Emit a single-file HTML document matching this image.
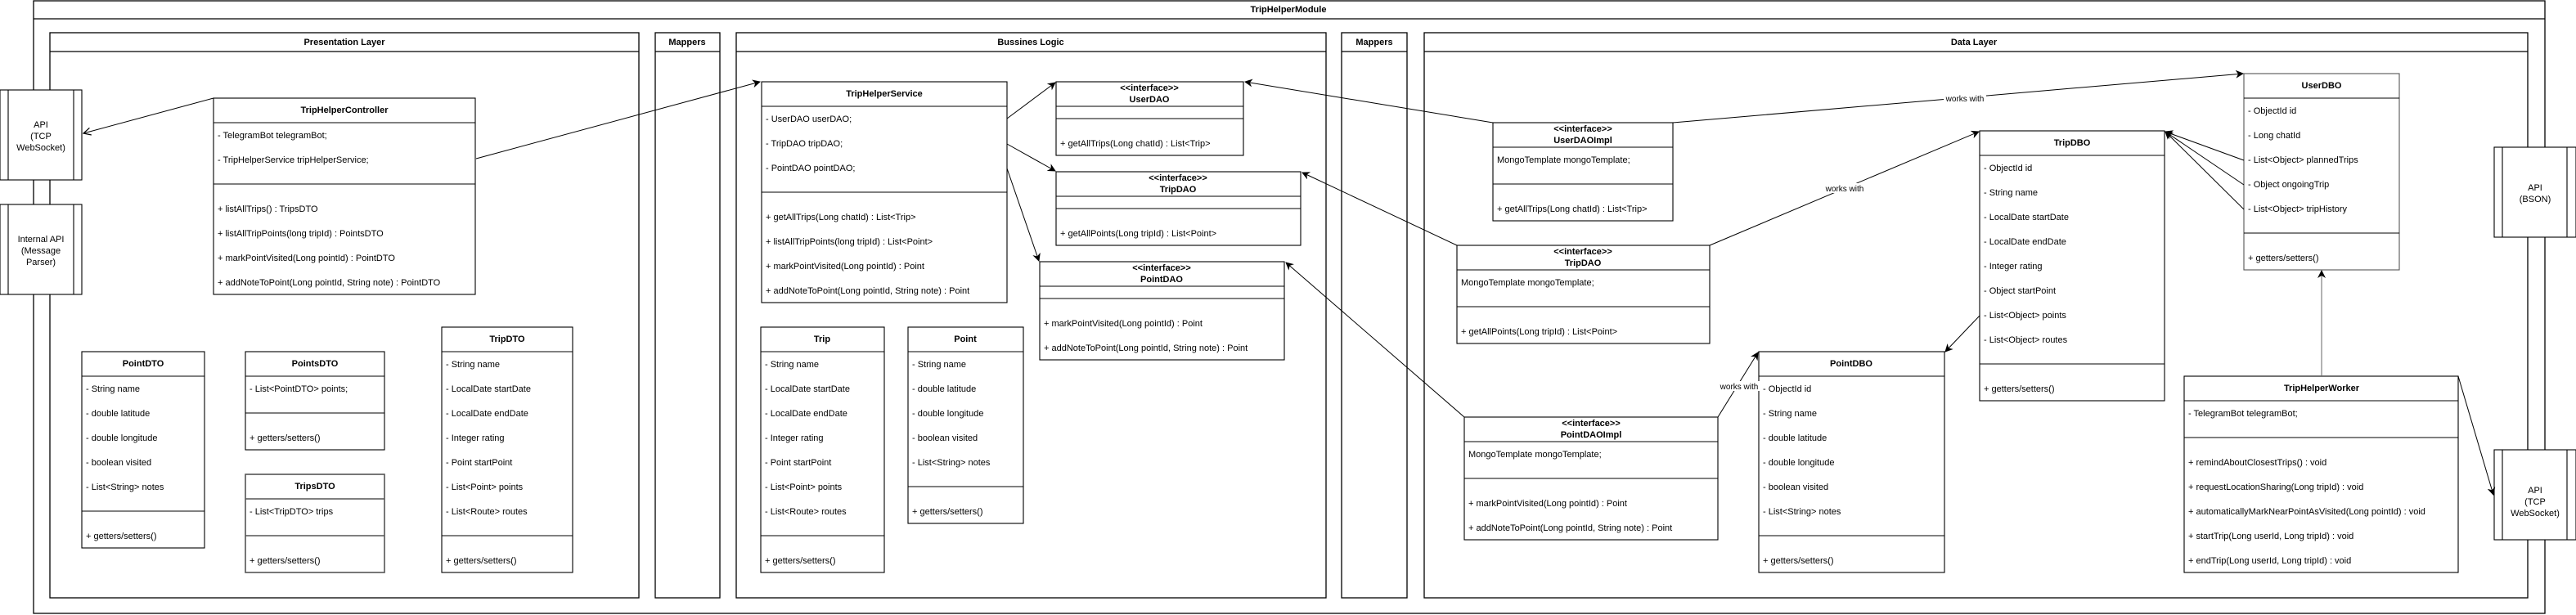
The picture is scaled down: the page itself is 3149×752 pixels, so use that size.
<!DOCTYPE html>
<html><head><meta charset="utf-8"><style>
html,body{margin:0;padding:0;background:#fff;}
svg{display:block;}
text{font-family:"Liberation Sans",Arial,sans-serif;font-size:11px;fill:#000;}
.b{font-weight:bold;}
.c{text-anchor:middle;}
</style></head><body>
<svg width="3149" height="752" viewBox="0 0 3149 752" xmlns="http://www.w3.org/2000/svg">
<defs>
<marker id="a" markerWidth="10" markerHeight="10" refX="9" refY="5" orient="auto" markerUnits="userSpaceOnUse">
<path d="M0,0 L10,5 L0,10 L3,5 z" fill="#000"/></marker>
<marker id="o" markerWidth="10" markerHeight="10" refX="9" refY="5" orient="auto" markerUnits="userSpaceOnUse">
<path d="M0,0.5 L9,5 L0,9.5" fill="none" stroke="#000" stroke-width="1.2"/></marker>
</defs>
<g fill="none" stroke="#000" stroke-width="1.3">
<rect x="41" y="1" width="3070" height="749" fill="#fff"/>
<line x1="41" y1="23" x2="3111" y2="23"/>
<rect x="61" y="40" width="720" height="691"/><line x1="61" y1="63" x2="781" y2="63"/>
<rect x="801" y="40" width="79" height="691"/><line x1="801" y1="63" x2="880" y2="63"/>
<rect x="900" y="40" width="721" height="691"/><line x1="900" y1="63" x2="1621" y2="63"/>
<rect x="1640" y="40" width="80" height="691"/><line x1="1640" y1="63" x2="1720" y2="63"/>
<rect x="1741" y="40" width="1349" height="691"/><line x1="1741" y1="63" x2="3090" y2="63"/>
</g>
<g stroke="#000" stroke-width="1.1" fill="#fff">
<rect x="0" y="110" width="100" height="110"/><line x1="10" y1="110" x2="10" y2="220"/><line x1="90" y1="110" x2="90" y2="220"/>
<rect x="0" y="250" width="100" height="110"/><line x1="10" y1="250" x2="10" y2="360"/><line x1="90" y1="250" x2="90" y2="360"/>
<rect x="3049" y="180" width="100" height="110"/><line x1="3059" y1="180" x2="3059" y2="290"/><line x1="3138" y1="180" x2="3138" y2="290"/>
<rect x="3049" y="550" width="100" height="110"/><line x1="3059" y1="550" x2="3059" y2="660"/><line x1="3138" y1="550" x2="3138" y2="660"/>
</g>
<text class="b c" x="1575" y="15">TripHelperModule</text>
<text class="b c" x="421" y="55">Presentation Layer</text>
<text class="b c" x="840" y="55">Mappers</text>
<text class="b c" x="1260" y="55">Bussines Logic</text>
<text class="b c" x="1680" y="55">Mappers</text>
<text class="b c" x="2413" y="55">Data Layer</text>
<text class="c" x="50" y="156">API</text><text class="c" x="50" y="170">(TCP</text><text class="c" x="50" y="184">WebSocket)</text>
<text class="c" x="50" y="296">Internal API</text><text class="c" x="50" y="310">(Message</text><text class="c" x="50" y="324">Parser)</text>
<text class="c" x="3099" y="233">API</text><text class="c" x="3099" y="247">(BSON)</text>
<text class="c" x="3099" y="603">API</text><text class="c" x="3099" y="617">(TCP</text><text class="c" x="3099" y="631">WebSocket)</text>

<g stroke="#000" stroke-width="1.1" fill="#fff">
<rect x="261" y="120" width="320" height="240"/><line x1="261" y1="150" x2="581" y2="150"/><line x1="261" y1="225" x2="581" y2="225"/>
<rect x="931" y="100" width="300" height="270"/><line x1="931" y1="130" x2="1231" y2="130"/><line x1="931" y1="235" x2="1231" y2="235"/>
<rect x="1291" y="100" width="229" height="90"/><line x1="1291" y1="130" x2="1520" y2="130"/><line x1="1291" y1="145" x2="1520" y2="145"/>
<rect x="1291" y="210" width="299" height="90"/><line x1="1291" y1="240" x2="1590" y2="240"/><line x1="1291" y1="255" x2="1590" y2="255"/>
<rect x="1271" y="320" width="299" height="120"/><line x1="1271" y1="350" x2="1570" y2="350"/><line x1="1271" y1="365" x2="1570" y2="365"/>
<rect x="100" y="430" width="150" height="240"/><line x1="100" y1="460" x2="250" y2="460"/><line x1="100" y1="625" x2="250" y2="625"/>
<rect x="300" y="430" width="170" height="120"/><line x1="300" y1="460" x2="470" y2="460"/><line x1="300" y1="505" x2="470" y2="505"/>
<rect x="300" y="580" width="170" height="120" stroke="#555" stroke-width="1.6"/><line x1="300" y1="610" x2="470" y2="610" stroke="#555" stroke-width="1.6"/><line x1="300" y1="655" x2="470" y2="655" stroke="#555" stroke-width="1.6"/>
<rect x="540" y="400" width="160" height="300"/><line x1="540" y1="430" x2="700" y2="430"/><line x1="540" y1="655" x2="700" y2="655"/>
<rect x="930" y="400" width="151" height="300"/><line x1="930" y1="430" x2="1081" y2="430"/><line x1="930" y1="655" x2="1081" y2="655"/>
<rect x="1110" y="400" width="141" height="240"/><line x1="1110" y1="430" x2="1251" y2="430"/><line x1="1110" y1="595" x2="1251" y2="595"/>
<rect x="1825" y="150" width="220" height="120"/><line x1="1825" y1="180" x2="2045" y2="180"/><line x1="1825" y1="225" x2="2045" y2="225"/>
<rect x="1781" y="300" width="309" height="120"/><line x1="1781" y1="330" x2="2090" y2="330"/><line x1="1781" y1="375" x2="2090" y2="375"/>
<rect x="1790" y="510" width="310" height="150"/><line x1="1790" y1="540" x2="2100" y2="540"/><line x1="1790" y1="585" x2="2100" y2="585"/>
<rect x="2743" y="90" width="190" height="240" stroke="#555"/><line x1="2743" y1="120" x2="2933" y2="120"/><line x1="2743" y1="285" x2="2933" y2="285"/>
<rect x="2420" y="160" width="226" height="330"/><line x1="2420" y1="190" x2="2646" y2="190"/><line x1="2420" y1="445" x2="2646" y2="445"/>
<rect x="2150" y="430" width="227" height="270"/><line x1="2150" y1="460" x2="2377" y2="460"/><line x1="2150" y1="655" x2="2377" y2="655"/>
<rect x="2670" y="460" width="335" height="240"/><line x1="2670" y1="490" x2="3005" y2="490"/><line x1="2670" y1="535" x2="3005" y2="535"/>
</g>

<g stroke="#000" stroke-width="1" fill="none">
<line x1="261" y1="120" x2="102" y2="163" marker-end="url(#o)"/>
<line x1="582" y1="194" x2="929" y2="100" marker-end="url(#a)"/>
<line x1="1231" y1="145" x2="1290" y2="101" marker-end="url(#a)"/>
<line x1="1231" y1="176" x2="1290" y2="209" marker-end="url(#a)"/>
<line x1="1231" y1="206" x2="1270" y2="319" marker-end="url(#a)"/>
<line x1="1825" y1="150" x2="1522" y2="100" marker-end="url(#a)"/>
<line x1="1781" y1="300" x2="1592" y2="211" marker-end="url(#a)"/>
<line x1="1790" y1="510" x2="1572" y2="321" marker-end="url(#a)"/>
<line x1="2045" y1="150" x2="2742" y2="90" marker-end="url(#a)"/>
<line x1="2090" y1="300" x2="2419" y2="161" marker-end="url(#a)"/>
<line x1="2100" y1="510" x2="2149" y2="431" marker-end="url(#a)"/>
<line x1="2420" y1="386" x2="2378" y2="430" marker-end="url(#a)"/>
<line x1="2743" y1="196" x2="2647" y2="161" marker-end="url(#a)"/>
<line x1="2743" y1="226" x2="2647" y2="161" marker-end="url(#a)"/>
<line x1="2743" y1="256" x2="2647" y2="161" marker-end="url(#a)"/>
<line x1="2838" y1="460" x2="2838" y2="331" stroke="#666" marker-end="url(#a)"/>
<line x1="3005" y1="460" x2="3048" y2="605" marker-end="url(#a)"/>
</g>
<g>
<rect x="2376" y="114" width="52" height="12" fill="#fff"/><text class="c" x="2402" y="124" style="font-size:10px">works with</text>
<rect x="2229" y="224" width="52" height="12" fill="#fff"/><text class="c" x="2255" y="234" style="font-size:10px">works with</text>
<rect x="2100" y="466" width="52" height="12" fill="#fff"/><text class="c" x="2126" y="476" style="font-size:10px">works with</text>
</g>

<g dominant-baseline="central">
<text class="b c" x="421" y="135">TripHelperController</text>
<text x="266" y="166">- TelegramBot telegramBot;</text>
<text x="266" y="196">- TripHelperService tripHelperService;</text>
<text x="266" y="256">+ listAllTrips() : TripsDTO</text>
<text x="266" y="286">+ listAllTripPoints(long tripId) : PointsDTO</text>
<text x="266" y="316">+ markPointVisited(Long pointId) : PointDTO</text>
<text x="266" y="346">+ addNoteToPoint(Long pointId, String note) : PointDTO</text>
<text class="b c" x="1081" y="115">TripHelperService</text>
<text x="936" y="146">- UserDAO userDAO;</text>
<text x="936" y="176">- TripDAO tripDAO;</text>
<text x="936" y="206">- PointDAO pointDAO;</text>
<text x="936" y="266">+ getAllTrips(Long chatId) : List&lt;Trip&gt;</text>
<text x="936" y="296">+ listAllTripPoints(long tripId) : List&lt;Point&gt;</text>
<text x="936" y="326">+ markPointVisited(Long pointId) : Point</text>
<text x="936" y="356">+ addNoteToPoint(Long pointId, String note) : Point</text>
<text class="b c" x="1405" y="108">&lt;&lt;interface&gt;&gt;</text><text class="b c" x="1405" y="122">UserDAO</text>
<text x="1296" y="176">+ getAllTrips(Long chatId) : List&lt;Trip&gt;</text>
<text class="b c" x="1440" y="218">&lt;&lt;interface&gt;&gt;</text><text class="b c" x="1440" y="232">TripDAO</text>
<text x="1296" y="286">+ getAllPoints(Long tripId) : List&lt;Point&gt;</text>
<text class="b c" x="1420" y="328">&lt;&lt;interface&gt;&gt;</text><text class="b c" x="1420" y="342">PointDAO</text>
<text x="1276" y="396">+ markPointVisited(Long pointId) : Point</text>
<text x="1276" y="426">+ addNoteToPoint(Long pointId, String note) : Point</text>
<text class="b c" x="175" y="445">PointDTO</text>
<text x="105" y="476">- String name</text><text x="105" y="506">- double latitude</text><text x="105" y="536">- double longitude</text><text x="105" y="566">- boolean visited</text><text x="105" y="596">- List&lt;String&gt; notes</text>
<text x="105" y="656">+ getters/setters()</text>
<text class="b c" x="385" y="445">PointsDTO</text>
<text x="305" y="476">- List&lt;PointDTO&gt; points;</text><text x="305" y="536">+ getters/setters()</text>
<text class="b c" x="385" y="595">TripsDTO</text>
<text x="305" y="626">- List&lt;TripDTO&gt; trips</text><text x="305" y="686">+ getters/setters()</text>
<text class="b c" x="620" y="415">TripDTO</text>
<text x="545" y="446">- String name</text><text x="545" y="476">- LocalDate startDate</text><text x="545" y="506">- LocalDate endDate</text><text x="545" y="536">- Integer rating</text><text x="545" y="566">- Point startPoint</text><text x="545" y="596">- List&lt;Point&gt; points</text><text x="545" y="626">- List&lt;Route&gt; routes</text>
<text x="545" y="686">+ getters/setters()</text>
<text class="b c" x="1005" y="415">Trip</text>
<text x="935" y="446">- String name</text><text x="935" y="476">- LocalDate startDate</text><text x="935" y="506">- LocalDate endDate</text><text x="935" y="536">- Integer rating</text><text x="935" y="566">- Point startPoint</text><text x="935" y="596">- List&lt;Point&gt; points</text><text x="935" y="626">- List&lt;Route&gt; routes</text>
<text x="935" y="686">+ getters/setters()</text>
<text class="b c" x="1180" y="415">Point</text>
<text x="1115" y="446">- String name</text><text x="1115" y="476">- double latitude</text><text x="1115" y="506">- double longitude</text><text x="1115" y="536">- boolean visited</text><text x="1115" y="566">- List&lt;String&gt; notes</text>
<text x="1115" y="626">+ getters/setters()</text>
<text class="b c" x="1935" y="158">&lt;&lt;interface&gt;&gt;</text><text class="b c" x="1935" y="172">UserDAOImpl</text>
<text x="1830" y="196">MongoTemplate mongoTemplate;</text>
<text x="1830" y="256">+ getAllTrips(Long chatId) : List&lt;Trip&gt;</text>
<text class="b c" x="1935" y="308">&lt;&lt;interface&gt;&gt;</text><text class="b c" x="1935" y="322">TripDAO</text>
<text x="1786" y="346">MongoTemplate mongoTemplate;</text>
<text x="1786" y="406">+ getAllPoints(Long tripId) : List&lt;Point&gt;</text>
<text class="b c" x="1945" y="518">&lt;&lt;interface&gt;&gt;</text><text class="b c" x="1945" y="532">PointDAOImpl</text>
<text x="1795" y="556">MongoTemplate mongoTemplate;</text>
<text x="1795" y="616">+ markPointVisited(Long pointId) : Point</text>
<text x="1795" y="646">+ addNoteToPoint(Long pointId, String note) : Point</text>
<text class="b c" x="2838" y="105">UserDBO</text>
<text x="2748" y="136">- ObjectId id</text><text x="2748" y="166">- Long chatId</text><text x="2748" y="196">- List&lt;Object&gt; plannedTrips</text><text x="2748" y="226">- Object ongoingTrip</text><text x="2748" y="256">- List&lt;Object&gt; tripHistory</text>
<text x="2748" y="316">+ getters/setters()</text>
<text class="b c" x="2533" y="175">TripDBO</text>
<text x="2425" y="206">- ObjectId id</text><text x="2425" y="236">- String name</text><text x="2425" y="266">- LocalDate startDate</text><text x="2425" y="296">- LocalDate endDate</text><text x="2425" y="326">- Integer rating</text><text x="2425" y="356">- Object startPoint</text><text x="2425" y="386">- List&lt;Object&gt; points</text><text x="2425" y="416">- List&lt;Object&gt; routes</text>
<text x="2425" y="476">+ getters/setters()</text>
<text class="b c" x="2263" y="445">PointDBO</text>
<text x="2155" y="476">- ObjectId id</text><text x="2155" y="506">- String name</text><text x="2155" y="536">- double latitude</text><text x="2155" y="566">- double longitude</text><text x="2155" y="596">- boolean visited</text><text x="2155" y="626">- List&lt;String&gt; notes</text>
<text x="2155" y="686">+ getters/setters()</text>
<text class="b c" x="2838" y="475">TripHelperWorker</text>
<text x="2675" y="506">- TelegramBot telegramBot;</text>
<text x="2675" y="566">+ remindAboutClosestTrips() : void</text>
<text x="2675" y="596">+ requestLocationSharing(Long tripId) : void</text>
<text x="2675" y="626">+ automaticallyMarkNearPointAsVisited(Long pointId) : void</text>
<text x="2675" y="656">+ startTrip(Long userId, Long tripId) : void</text>
<text x="2675" y="686">+ endTrip(Long userId, Long tripId) : void</text>
</g>
</svg>
</body></html>
